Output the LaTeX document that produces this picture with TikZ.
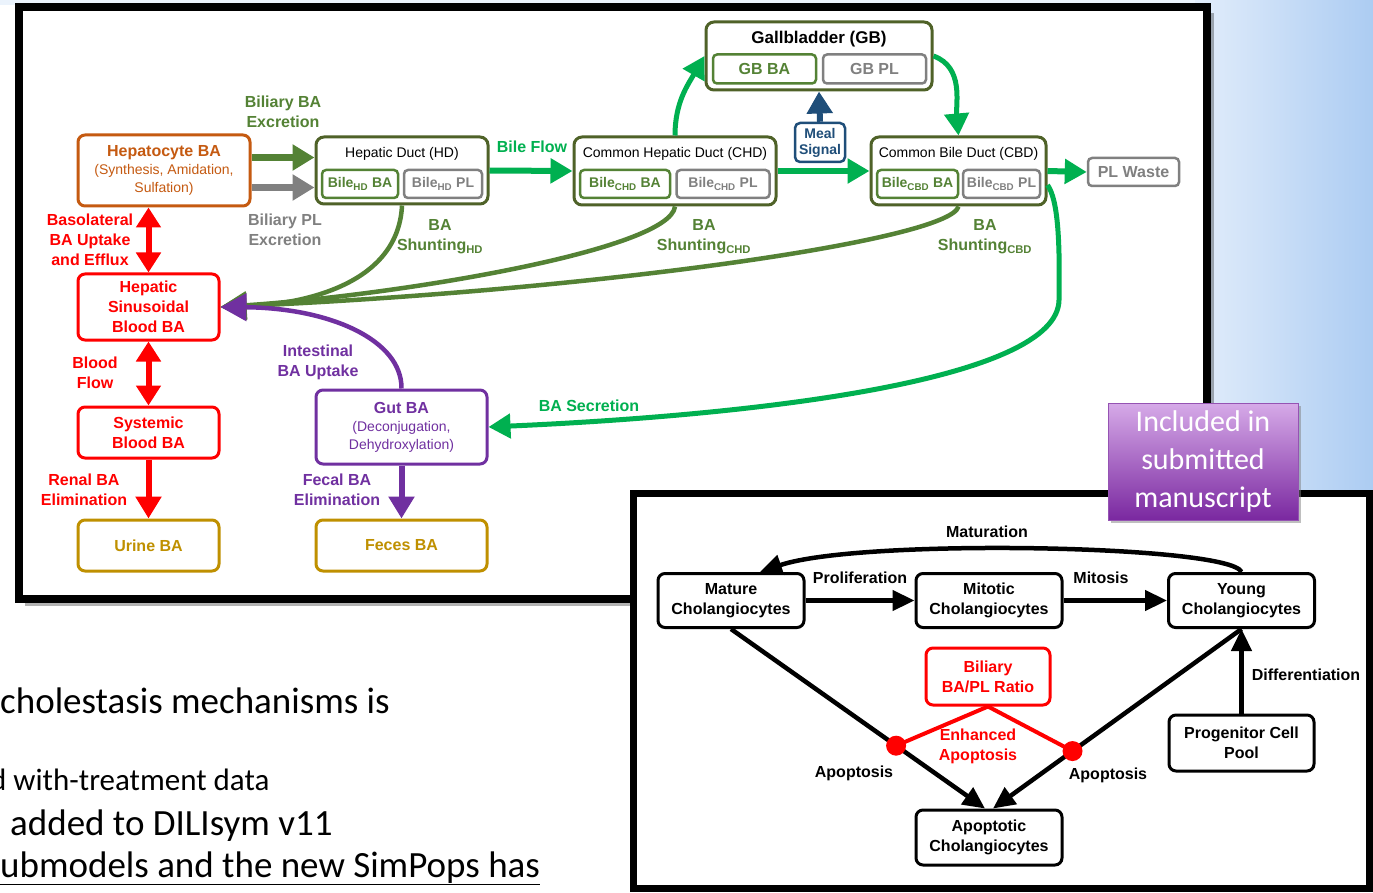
\documentclass[tikz,border=0pt]{standalone}
\usepackage{fontspec}
\setmainfont{Liberation Sans}
\newfontfamily\slidefont{Carlito}
\usetikzlibrary{arrows.meta,positioning,shadows}

\definecolor{hepaorange}{RGB}{197,90,17}
\definecolor{ductolive}{RGB}{79,98,40}
\definecolor{bagreen}{RGB}{84,130,53}
\definecolor{flowgreen}{RGB}{0,176,80}
\definecolor{plgray}{RGB}{128,128,128}
\definecolor{gutpurple}{RGB}{112,48,160}
\definecolor{wastegold}{RGB}{191,144,0}
\definecolor{mealblue}{RGB}{31,78,121}
\definecolor{skylight}{RGB}{226,237,251}
\definecolor{skydark}{RGB}{172,204,242}
\definecolor{tagtop}{RGB}{214,170,232}
\definecolor{tagbottom}{RGB}{122,40,160}

\newcommand{\labfont}{\bfseries\fontsize{16}{20}\selectfont}
\newcommand{\subfont}{\mdseries\fontsize{14}{17}\selectfont}
\newcommand{\binfont}{\bfseries\fontsize{14}{16}\selectfont}

\tikzset{
  modelbox/.style={draw=#1, text=#1, rounded corners=7pt, line width=3pt, align=center, font=\labfont, inner sep=2pt},
  ductbox/.style={draw=ductolive, rounded corners=8pt, line width=3pt},
  innerbox/.style={draw=#1, text=#1, rounded corners=4pt, line width=2.5pt, font=\binfont, minimum height=28pt, inner sep=1pt},
  flowlabel/.style={text=#1, font=\labfont, align=center, inner sep=0pt},
  fatarrow/.style={draw=#1, line width=7pt, -{Triangle[width=25pt,length=22pt]}},
  flowarrow/.style={draw=#1, line width=5pt, -{Triangle[width=24pt,length=22pt]}},
  curvearrow/.style={draw=#1, line width=4.5pt, -{Triangle[width=27pt,length=26pt]}},
  twoway/.style={draw=red, line width=6pt, {Triangle[width=24pt,length=20pt]}-{Triangle[width=24pt,length=20pt]}},
  cellbox/.style={draw, rounded corners=7pt, line width=3pt, align=center, font=\labfont, minimum width=146pt, minimum height=54pt},
  cellarrow/.style={line width=4.5pt, -{Triangle[width=20pt,length=22pt]}},
  reddot/.style={circle, fill=red, minimum size=20pt, inner sep=0pt},
  slidetext/.style={anchor=base west, inner sep=0pt, font=\slidefont\fontsize{#1}{#1}\selectfont},
}

\begin{document}
\begin{tikzpicture}[x=1pt,y=-1pt]
  \useasboundingbox (0,0) rectangle (1373,893);
  % slide background
  \fill[white] (0,0) rectangle (1373,893);
  \shade[left color=skylight, right color=skydark] (1195,0) rectangle (1373,500);
  \fill[skylight!70] (0,0) rectangle (1195,5);

  % upper panel: bile acid model
  \fill[black, opacity=0.3] (25,13) rectangle (1214,606);
  \draw[line width=8pt, fill=white] (19,7) rectangle (1207,599);

  \node[modelbox=hepaorange, minimum width=172pt, minimum height=71pt] (hepa) at (164,170.5)
    {Hepatocyte BA\\[-2pt]{\subfont (Synthesis, Amidation,}\\[-2pt]{\subfont Sulfation)}};

  \node[ductbox, minimum width=172pt, minimum height=67pt] (hd) at (402,170.5) {};
  \node[font=\subfont, inner sep=0pt] (hdtitle) at (402,154) {Hepatic Duct (HD)};
  \node[innerbox=bagreen, minimum width=76pt] (hdba) at (360,184) {Bile\textsubscript{HD} BA};
  \node[innerbox=plgray, minimum width=78pt] (hdpl) at (443,184) {Bile\textsubscript{HD} PL};

  \node[ductbox, minimum width=202pt, minimum height=68pt] (chd) at (675,171) {};
  \node[font=\subfont, inner sep=0pt] (chdtitle) at (675,154) {Common Hepatic Duct (CHD)};
  \node[innerbox=bagreen, minimum width=90pt] (chdba) at (625,184) {Bile\textsubscript{CHD} BA};
  \node[innerbox=plgray, minimum width=93pt] (chdpl) at (723,184) {Bile\textsubscript{CHD} PL};

  \node[ductbox, minimum width=175pt, minimum height=68pt] (cbd) at (958.5,171) {};
  \node[font=\subfont, inner sep=0pt] (cbdtitle) at (958.5,154) {Common Bile Duct (CBD)};
  \node[innerbox=bagreen, minimum width=81pt] (cbdba) at (917.5,184) {Bile\textsubscript{CBD} BA};
  \node[innerbox=plgray, minimum width=77pt] (cbdpl) at (1001.5,184) {Bile\textsubscript{CBD} PL};

  \node[ductbox, minimum width=226pt, minimum height=68pt] (gb) at (819,56) {};
  \node[font=\bfseries\fontsize{17}{20}\selectfont, inner sep=0pt] (gbtitle) at (819,39) {Gallbladder (GB)};
  \node[innerbox=bagreen, font=\labfont, minimum width=103pt, minimum height=29pt] (gbba) at (764.5,69) {GB BA};
  \node[innerbox=plgray, font=\labfont, minimum width=103pt, minimum height=29pt] (gbpl) at (874.5,69) {GB PL};

  \node[modelbox=mealblue, rounded corners=5pt, line width=2.5pt, font=\bfseries\fontsize{14}{16}\selectfont,
    minimum width=50pt, minimum height=39pt, inner sep=0pt] (meal) at (820,142.5) {Meal\\Signal};
  \node[innerbox=plgray, font=\labfont, minimum width=91pt] (plwaste) at (1133.5,172) {PL Waste};

  \node[modelbox=red, minimum width=141pt, minimum height=66pt] (hsb) at (148.5,307) {Hepatic\\Sinusoidal\\Blood BA};
  \node[modelbox=red, minimum width=141pt, minimum height=51pt] (sysb) at (148.5,432.5) {Systemic\\Blood BA};
  \node[modelbox=wastegold, minimum width=141pt, minimum height=51pt] (urine) at (148.5,545.5) {Urine BA};
  \node[modelbox=gutpurple, minimum width=171pt, minimum height=74pt] (gut) at (401.5,427)
    {Gut BA\\[-2pt]{\subfont (Deconjugation,}\\[-2pt]{\subfont Dehydroxylation)}};
  \node[modelbox=wastegold, minimum width=171pt, minimum height=51pt] (feces) at (401.5,545.5) {Feces BA};

  % excretion and flow along the ducts
  \draw[fatarrow=bagreen] ([yshift=13pt]hepa.east) -- ([yshift=13pt]hd.west);
  \draw[fatarrow=plgray] ([yshift=-17pt]hepa.east) -- ([yshift=-17pt]hd.west);
  \draw[flowarrow=flowgreen, line width=6pt] (hd.east) -- (chd.west);
  \draw[flowarrow=flowgreen, line width=6pt] (chd.east) -- (cbd.west);
  \draw[flowarrow=flowgreen, line width=6pt] (cbd.east) -- (plwaste.west);
  \draw[flowarrow=flowgreen] (chd.north) to[out=90,in=240] (gb.west);
  \draw[flowarrow=flowgreen] (gb.east) to[out=-20,in=95] (cbd.north);
  \draw[fatarrow=mealblue, line width=6pt] (meal.north) -- (gb.south);
  \draw[flowarrow=flowgreen] ([yshift=-14pt]cbd.east) .. controls (1058,200) and (1060,240) .. (1059,300)
    .. controls (1058,380) and (760,415) .. (gut.east);

  % shunting back to the blood
  \draw[curvearrow=bagreen] (hd.south) .. controls (398,290) and (290,305) .. (hsb.east);
  \draw[curvearrow=bagreen] (chd.south) .. controls (670,250) and (400,295) .. (hsb.east);
  \draw[curvearrow=bagreen] (cbd.south) .. controls (950,240) and (600,290) .. (hsb.east);
  \draw[curvearrow=gutpurple] (gut.north) .. controls (402,340) and (330,308) .. (hsb.east);

  \draw[twoway] (hsb.north |- hepa.south) -- (hsb.north);
  \draw[twoway] (hsb.south) -- (sysb.north);
  \draw[fatarrow=red, line width=6pt] (sysb.south) -- (urine.north);
  \draw[fatarrow=gutpurple, line width=6pt] (gut.south) -- (feces.north);

  \node[flowlabel=bagreen] (lbbaexc) at (283,112) {Biliary BA\\Excretion};
  \node[flowlabel=plgray] (lbplexc) at (285,230) {Biliary PL\\Excretion};
  \node[flowlabel=flowgreen] (lbflow) at (532,147) {Bile Flow};
  \node[flowlabel=bagreen] (lbshd) at (440,237) {BA\\Shunting\textsubscript{HD}};
  \node[flowlabel=bagreen] (lbschd) at (704,237) {BA\\Shunting\textsubscript{CHD}};
  \node[flowlabel=bagreen] (lbscbd) at (985,237) {BA\\Shunting\textsubscript{CBD}};
  \node[flowlabel=red] (lbbaso) at (90,240) {Basolateral\\BA Uptake\\and Efflux};
  \node[flowlabel=red] (lbblood) at (95,373) {Blood\\Flow};
  \node[flowlabel=red] (lbrenal) at (84,490) {Renal BA\\Elimination};
  \node[flowlabel=gutpurple] (lbint) at (318,362) {Intestinal\\BA Uptake};
  \node[flowlabel=gutpurple] (lbfecal) at (337,490) {Fecal BA\\Elimination};
  \node[flowlabel=flowgreen] (lbsec) at (589,406) {BA Secretion};

  % lower panel: cholangiocyte life cycle
  \draw[line width=7pt, fill=white] (633,493) rectangle (1369,888);

  \node[cellbox] (mature) at (731,600.5) {Mature\\Cholangiocytes};
  \node[cellbox] (mitotic) at (989,600.5) {Mitotic\\Cholangiocytes};
  \node[cellbox] (young) at (1241.5,600.5) {Young\\Cholangiocytes};
  \node[cellbox, draw=red, text=red, minimum width=124pt, minimum height=57pt] (ratio) at (988,676.5) {Biliary\\BA/PL Ratio};
  \node[cellbox, minimum width=145pt, minimum height=56pt] (progenitor) at (1241.5,743) {Progenitor Cell\\Pool};
  \node[cellbox, minimum height=55pt] (apoptotic) at (989,837.5) {Apoptotic\\Cholangiocytes};

  \draw[cellarrow] (mature.east) -- (mitotic.west);
  \draw[cellarrow] (mitotic.east) -- (young.west);
  \draw[cellarrow] (young.north) .. controls (1230,545) and (860,538) .. ([xshift=29pt]mature.north);
  \draw[cellarrow] (progenitor.north) -- (young.south);
  \draw[cellarrow] (mature.south) -- coordinate[pos=0.65] (dotlpos) ([xshift=-4pt]apoptotic.north);
  \draw[cellarrow] (young.south) -- coordinate[pos=0.68] (dotrpos) ([xshift=4pt]apoptotic.north);
  \draw[red, line width=4pt] (ratio.south) -- (dotlpos);
  \draw[red, line width=4pt] (ratio.south) -- (dotrpos);
  \node[reddot] (dotl) at (dotlpos) {};
  \node[reddot] (dotr) at (dotrpos) {};

  \node[flowlabel=black] (lbmatur) at (987,532) {Maturation};
  \node[flowlabel=black] (lbprolif) at (860,578) {Proliferation};
  \node[flowlabel=black] (lbmitosis) at (1101,578) {Mitosis};
  \node[flowlabel=black] (lbdiff) at (1306,675) {Differentiation};
  \node[flowlabel=black] (lbapopl) at (854,773) {Apoptosis};
  \node[flowlabel=black] (lbapopr) at (1108,775) {Apoptosis};
  \node[flowlabel=red] (lbenh) at (978,746) {Enhanced\\Apoptosis};

  % tag and slide text
  \node[draw=tagbottom!80, top color=tagtop, bottom color=tagbottom, text=white, drop shadow,
    minimum width=190pt, minimum height=117pt, align=center,
    font=\slidefont\fontsize{30}{38}\selectfont] (tag) at (1203,461.5) {Included in\\submitted\\manuscript};

  \node[slidetext=37] (txta) at (0,713) {cholestasis mechanisms is};
  \node[slidetext=31] (txtb) at (-10,790) {d with-treatment data};
  \node[slidetext=37] (txtc) at (10,835) {added to DILIsym v11};
  \node[slidetext=37] (txtd) at (0,877) {\underline{ubmodels and the new SimPops has}};
\end{tikzpicture}
\end{document}
